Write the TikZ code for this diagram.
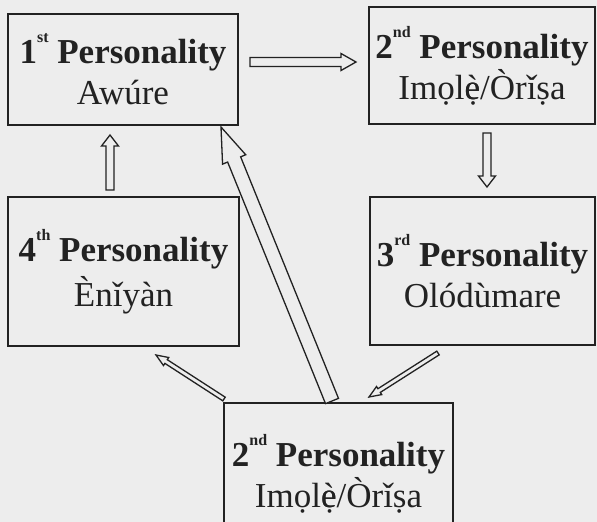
\documentclass[tikz,border=0pt]{standalone}
\usepackage{fontspec}
\setmainfont{Liberation Serif}
\usetikzlibrary{calc}
\definecolor{bgc}{gray}{0.93}
\definecolor{ink}{HTML}{222222}
\newcommand\harrow[5]{%
  \path ($(#2)!#5!(#1)$) coordinate (hh);
  \draw[hollowarrow] ($(#1)!#3!90:(#2)$) -- ($(hh)!#3!90:(#2)$) -- ($(hh)!#4!90:(#2)$) -- (#2)
    -- ($(hh)!#4!-90:(#2)$) -- ($(hh)!#3!-90:(#2)$) -- ($(#1)!#3!-90:(#2)$) -- cycle;}
\newcommand\ordsup[1]{\raisebox{0.6em}{\fontsize{16}{16}\selectfont #1}}
\newcommand\edotgrave{\ooalign{è\cr ẹ}}
\begin{document}
\begin{tikzpicture}[x=1pt,y=-1pt,
  pbox/.style={draw=ink, line width=1.7pt, fill=bgc, rectangle, inner sep=0pt,
    align=center, text=ink, font=\fontsize{35}{41}\selectfont},
  hollowarrow/.style={draw=ink, line width=1.3pt, fill=bgc, line join=miter}]
\clip (0,0) rectangle (597,522);
\fill[bgc] (0,0) rectangle (597,522);
% boxes
\node[pbox, minimum width=230pt, minimum height=111pt] (b1) at (123,69.5)
  {\textbf{1\ordsup{st} Personality}\\Awúre};
\node[pbox, minimum width=226pt, minimum height=117pt] (b2) at (482,65.5)
  {\textbf{2\ordsup{nd} Personality}\\Imọl\edotgrave/Òrǐṣa};
\node[pbox, minimum width=225pt, minimum height=148pt] (b3) at (482.5,271)
  {\textbf{3\ordsup{rd} Personality}\\Olódùmare};
\node[pbox, minimum width=231pt, minimum height=149pt] (b4) at (123.5,271.5)
  {\textbf{4\ordsup{th} Personality}\\[4pt]Ènǐyàn};
\node[pbox, minimum width=229pt, minimum height=142pt] (b5) at (338.5,474)
  {\textbf{2\ordsup{nd} Personality}\\Imọl\edotgrave/Òrǐṣa};
% arrow end points
\coordinate (a12s) at (250,62);   \coordinate (a12e) at (356,62);
\coordinate (a23s) at (487,133);  \coordinate (a23e) at (487,187);
\coordinate (a41s) at (110,190);  \coordinate (a41e) at (110,135);
\coordinate (a51s) at (332,401);  \coordinate (a51e) at (221,127);
\coordinate (a54s) at (224,399);  \coordinate (a54e) at (156,355);
\coordinate (a35s) at (438,353);  \coordinate (a35e) at (369,397);
% arrows
\harrow{a12s}{a12e}{4.5pt}{8.5pt}{15pt}
\harrow{a23s}{a23e}{4pt}{8.5pt}{11pt}
\harrow{a41s}{a41e}{4pt}{8.5pt}{11pt}
\harrow{a51s}{a51e}{7pt}{12.5pt}{35pt}
\harrow{a54s}{a54e}{2.2pt}{4.8pt}{12pt}
\harrow{a35s}{a35e}{2.2pt}{4.8pt}{12pt}
\end{tikzpicture}
\end{document}
